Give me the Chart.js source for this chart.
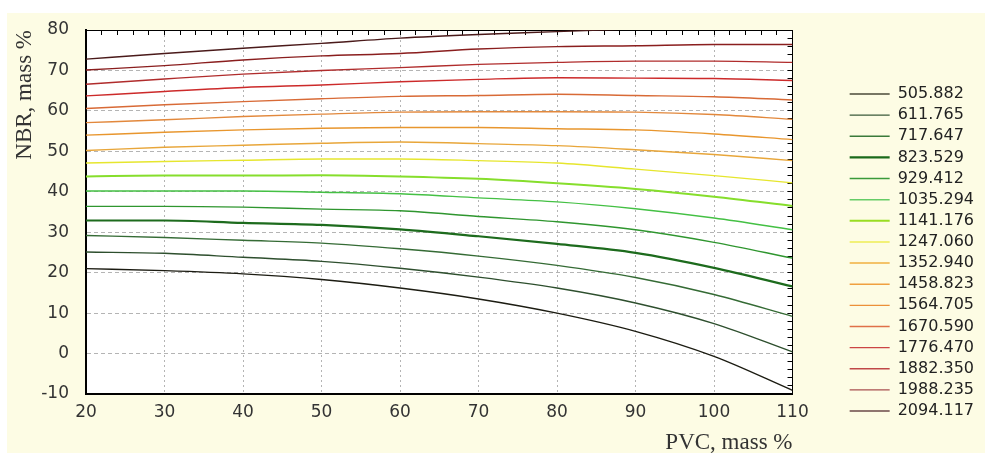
<!DOCTYPE html>
<html>
<head>
<meta charset="utf-8">
<script src="https://cdn.jsdelivr.net/npm/chart.js@4.4.1/dist/chart.umd.min.js"></script>
<style>
html, body { margin: 0; padding: 0; background: #fff; }
#wrap { width: 985px; height: 457px; }
</style>
</head>
<body>
<div id="wrap"><canvas id="canv" width="985" height="457"></canvas></div>
<script>
// PVC mass % along the x axis
var pvc = [20, 30, 40, 50, 60, 70, 80, 90, 100, 110];

// contour levels (legend)
var levels = ['505.882', '611.765', '717.647', '823.529', '929.412', '1035.294', '1141.176', '1247.060',
              '1352.940', '1458.823', '1564.705', '1670.590', '1776.470', '1882.350', '1988.235', '2094.117'];

// NBR mass % of each contour line at the pvc values
var c505  = [21.0, 20.5, 19.7, 18.3, 16.2, 13.5, 10.0, 5.5, -0.7, -9.1];
var c611  = [25.1, 24.8, 23.8, 22.8, 21.1, 18.9, 16.2, 12.5, 7.4, 0.4];
var c717  = [29.2, 28.7, 28.0, 27.3, 25.9, 24.1, 21.8, 18.8, 14.6, 9.2];
var c823  = [32.9, 32.9, 32.3, 31.8, 30.7, 29.0, 27.1, 24.9, 21.2, 16.6];
var c929  = [36.4, 36.4, 36.2, 35.7, 35.3, 33.9, 32.6, 30.6, 27.5, 23.6];
var c1035 = [40.2, 40.2, 40.2, 39.9, 39.5, 38.5, 37.5, 35.8, 33.5, 30.6];
var c1141 = [43.8, 44.0, 44.0, 44.1, 43.8, 43.2, 42.1, 40.7, 38.8, 36.5];
var c1247 = [47.1, 47.5, 47.8, 48.1, 48.1, 47.7, 47.1, 45.6, 44.0, 42.2];
var c1352 = [50.2, 51.0, 51.5, 52.0, 52.3, 51.9, 51.4, 50.4, 49.2, 47.7];
var c1458 = [54.0, 54.7, 55.3, 55.7, 55.9, 55.9, 55.6, 55.3, 54.3, 52.9];
var c1564 = [57.1, 57.8, 58.6, 59.2, 59.7, 59.8, 59.8, 59.7, 59.1, 57.9];
var c1670 = [60.6, 61.5, 62.3, 63.0, 63.6, 63.8, 64.1, 63.8, 63.5, 62.7];
var c1776 = [63.7, 64.8, 65.8, 66.4, 67.2, 67.8, 68.2, 68.1, 68.0, 67.5];
var c1882 = [66.6, 67.9, 69.1, 70.0, 70.7, 71.5, 72.0, 72.3, 72.3, 72.0];
var c1988 = [70.1, 71.2, 72.6, 73.6, 74.2, 75.3, 75.9, 76.1, 76.4, 76.4];
var c2094 = [72.8, 74.2, 75.5, 76.7, 78.0, 78.9, 79.6, 80.3];

var series = [c505, c611, c717, c823, c929, c1035, c1141, c1247,
              c1352, c1458, c1564, c1670, c1776, c1882, c1988, c2094];

var lineColors = ['#1c1c12', '#2e4f2e', '#356b35', '#1d6b1d', '#2f962f', '#44c044', '#86de2c', '#e6e62e',
                  '#e8a63a', '#e8962e', '#e2883c', '#d86a36', '#cc2a2a', '#b02c2c', '#8a1e1e', '#4a1a1a'];
var legendColors = ['#4a4a38', '#3a5a3a', '#3a7a3a', '#1a6a1a', '#3a9a3a', '#66cc66', '#99dd22', '#eeee55',
                    '#f0b040', '#f0a040', '#ec9038', '#e07048', '#cc4444', '#c04848', '#a85050', '#6a4848'];
var lineWidths = [1.4, 1.4, 1.4, 2.2, 1.4, 1.4, 2, 1.4, 1.4, 1.4, 1.4, 1.4, 1.4, 1.4, 1.4, 1.4];

var datasets = series.map(function(vals, i) {
  return {
    label: levels[i],
    data: vals.map(function(v, j) { return {x: pvc[j], y: v}; }),
    borderColor: lineColors[i],
    backgroundColor: lineColors[i],
    borderWidth: lineWidths[i],
    pointRadius: 0,
    pointStyle: 'line',
    fill: false,
    cubicInterpolationMode: 'monotone'
  };
});

var panelBg = {
  id: 'panelBg',
  beforeDraw: function(chart) {
    var ctx = chart.ctx, a = chart.chartArea;
    ctx.save();
    ctx.fillStyle = '#fdfce4';
    ctx.fillRect(7, 13, chart.width - 7, 440);
    ctx.fillStyle = '#ffffff';
    ctx.fillRect(a.left, a.top, a.right - a.left, a.bottom - a.top);
    ctx.restore();
  }
};

Chart.defaults.font.family = 'DejaVu Sans';

chart = new Chart(document.getElementById('canv'), {
  type: 'line',
  data: { datasets: datasets },
  plugins: [panelBg],
  options: {
    responsive: false,
    animation: false,
    layout: { padding: { top: 30, left: 0, right: 1, bottom: 0 } },
    plugins: {
      tooltip: { enabled: false },
      legend: {
        position: 'right',
        align: 'center',
        title: { display: true, text: '', padding: 4, font: { size: 10, lineHeight: 1 } },
        labels: {
          usePointStyle: true,
          pointStyle: 'line',
          pointStyleWidth: 40,
          boxWidth: 40,
          padding: 5.13,
          color: '#222',
          font: { size: 16 },
          generateLabels: function(c) {
            var items = Chart.defaults.plugins.legend.labels.generateLabels(c);
            items.forEach(function(it, i) { it.strokeStyle = legendColors[i]; it.fillStyle = legendColors[i]; });
            return items;
          }
        }
      }
    },
    scales: {
      x: {
        type: 'linear', position: 'bottom', min: 20, max: 110,
        ticks: { stepSize: 10, color: '#333', padding: 8, font: { size: 17 }, maxRotation: 0 },
        grid: { color: '#b4b4b4', drawTicks: false },
        border: { color: '#000', width: 2, dash: [2, 3] },
        title: { display: true, text: 'PVC, mass %', align: 'end', color: '#333',
                 font: { family: 'Liberation Serif', size: 23 }, padding: { top: 0, bottom: 0 } },
        afterFit: function(s) { s.height = 63; }
      },
      y: {
        type: 'linear', position: 'left', min: -10, max: 80,
        ticks: { stepSize: 10, color: '#333', padding: 17, font: { size: 17 } },
        grid: { color: '#b4b4b4', drawTicks: false },
        border: { color: '#000', width: 2, dash: [4, 3] },
        title: { display: true, text: 'NBR, mass %', align: 'end', color: '#333',
                 font: { family: 'Liberation Serif', size: 23 }, padding: { top: 11, bottom: 0 } },
        afterFit: function(s) { s.width = 86; }
      },
      x2: {
        type: 'linear', position: 'top', min: 20, max: 110,
        ticks: { stepSize: 2, display: false },
        grid: { drawOnChartArea: false, drawTicks: true, tickLength: -5, color: '#000' },
        border: { color: '#000', width: 1 },
        afterFit: function(s) { s.height = 0; }
      },
      y2: {
        type: 'linear', position: 'right', min: -10, max: 80,
        ticks: { stepSize: 2, display: false },
        grid: { drawOnChartArea: false, drawTicks: true, tickLength: -5, color: '#000' },
        border: { color: '#000', width: 1 },
        afterFit: function(s) { s.width = 52; }
      }
    }
  }
});
</script>
</body>
</html>
